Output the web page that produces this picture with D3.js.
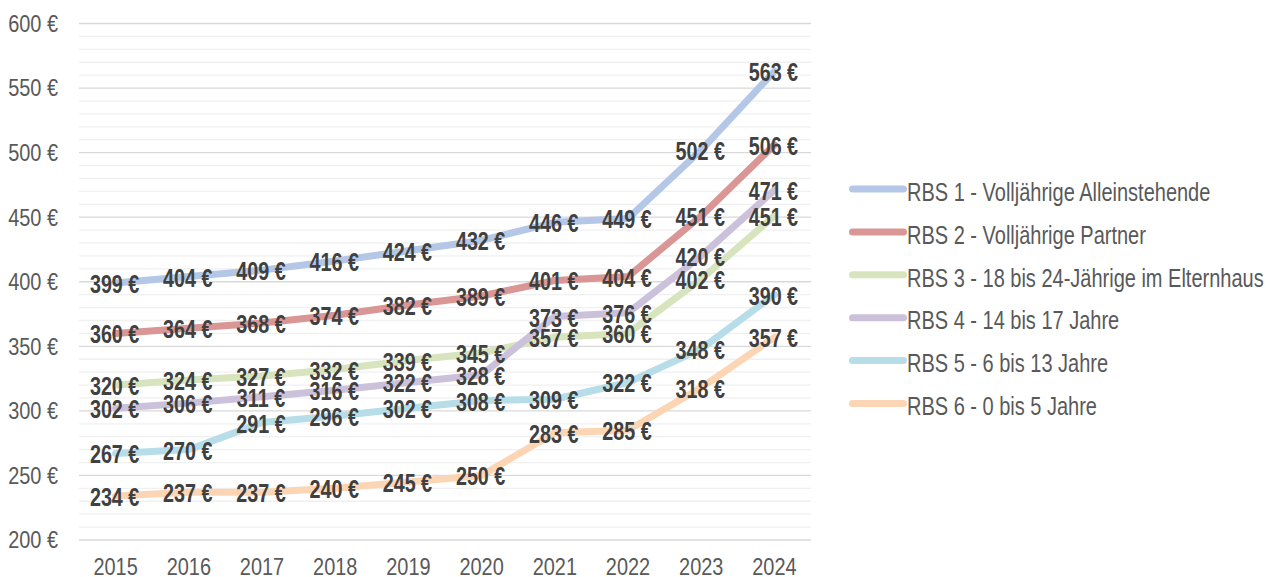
<!DOCTYPE html>
<html><head><meta charset="utf-8">
<script src="https://cdn.jsdelivr.net/npm/d3@7"></script>
<style>
body{margin:0;background:#fff;}
svg{display:block;font-family:"Liberation Sans Narrow","Liberation Sans",Arial,sans-serif;}
</style></head>
<body><svg id="c" width="1270" height="577"></svg>
<script>
const years = ["2015","2016","2017","2018","2019","2020","2021","2022","2023","2024"];
const seriesNames = ["RBS 1 - Volljährige Alleinstehende","RBS 2 - Volljährige Partner","RBS 3 - 18 bis 24-Jährige im Elternhaus","RBS 4 - 14 bis 17 Jahre","RBS 5 - 6 bis 13 Jahre","RBS 6 - 0 bis 5 Jahre"];
const rbs1 = [399,404,409,416,424,432,446,449,502,563];
const rbs2 = [360,364,368,374,382,389,401,404,451,506];
const rbs3 = [320,324,327,332,339,345,357,360,402,451];
const rbs4 = [302,306,311,316,322,328,373,376,420,471];
const rbs5 = [267,270,291,296,302,308,309,322,348,390];
const rbs6 = [234,237,237,240,245,250,283,285,318,357];
const colors = ["#b4c7e7","#d99694","#d7e4bd","#ccc1da","#b7dee8","#fcd5b5"];
const yTicks = [200,250,300,350,400,450,500,550,600];

const series = [rbs1,rbs2,rbs3,rbs4,rbs5,rbs6];
const svg = d3.select("#c");
const L=79, R=811, T=23.5, B=540;
const SX = 0.83;   // horizontal condensing (narrow font look)
const x = d3.scaleBand().domain(years).range([L,R]);
const y = d3.scaleLinear().domain([200,600]).range([B,T]);

// minor grid
svg.append("g").selectAll("line").data(d3.range(210,600,10).filter(v=>v%50)).join("line")
  .attr("x1",L).attr("x2",R).attr("y1",d=>y(d)).attr("y2",d=>y(d))
  .attr("stroke","#f0f0f0").attr("stroke-width",1.3);
// major grid
svg.append("g").selectAll("line").data(yTicks).join("line")
  .attr("x1",L).attr("x2",R).attr("y1",d=>y(d)).attr("y2",d=>y(d))
  .attr("stroke","#d9d9d9").attr("stroke-width",1.3);

// y axis labels
const ya = svg.append("g").attr("transform",`translate(${L},0)`)
  .call(d3.axisLeft(y).tickValues(yTicks).tickSize(0).tickFormat(d=>d+" €"));
ya.select(".domain").remove();
ya.selectAll("text").attr("x",0).attr("dy","0.33em").attr("transform",`translate(-21,0) scale(${SX},1)`)
  .attr("font-size",24).attr("fill","#595959").attr("font-family",null);

// x axis labels
const xa = svg.append("g").attr("transform",`translate(0,${B})`)
  .call(d3.axisBottom(x).tickSize(0));
xa.select(".domain").remove();
xa.selectAll("text").attr("y",0).attr("dy","0.71em").attr("transform",`translate(0,17.5) scale(${SX},1)`)
  .attr("font-size",24).attr("fill","#595959").attr("font-family",null);

const cx = d=>x(d)+x.bandwidth()/2;
const line = d3.line().x((d,i)=>cx(years[i])).y(d=>y(d));

// lines
series.forEach((s,k)=>{
  svg.append("path").datum(s).attr("d",line).attr("fill","none")
    .attr("stroke",colors[k]).attr("stroke-width",7).attr("stroke-linecap","round").attr("stroke-linejoin","round");
});
// labels
series.forEach((s,k)=>{
  svg.append("g").selectAll("text").data(s).join("text")
    .attr("transform",(d,i)=>`translate(${cx(years[i])-1},${y(d)}) scale(0.79,1)`)
    .attr("dy","0.4em")
    .attr("text-anchor","middle").attr("font-size",25).attr("font-weight","bold")
    .attr("fill","#404040").text(d=>d+" €");
});

// legend
const lg = svg.append("g");
seriesNames.forEach((n,k)=>{
  const yy = 189 + k*42.9;
  lg.append("line").attr("x1",852.5).attr("x2",903.5).attr("y1",yy).attr("y2",yy)
    .attr("stroke",colors[k]).attr("stroke-width",7).attr("stroke-linecap","round");
  lg.append("text").attr("transform",`translate(907,${yy+3}) scale(0.8,1)`).attr("dy","0.35em").attr("font-size",25)
    .attr("fill","#595959").text(n);
});
</script></body></html>
